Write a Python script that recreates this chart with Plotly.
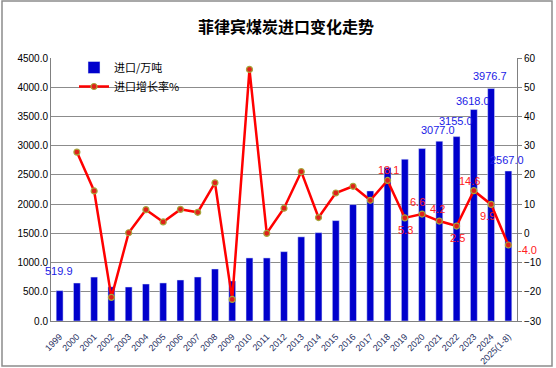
import plotly.graph_objects as go

years = ["1999", "2000", "2001", "2002", "2003", "2004", "2005", "2006", "2007", "2008",
         "2009", "2010", "2011", "2012", "2013", "2014", "2015", "2016", "2017", "2018",
         "2019", "2020", "2021", "2022", "2023", "2024", "2025(1-8)"]
imports = [519.9, 650, 752, 585, 582, 633, 651, 702, 753, 890,
           685, 1079, 1079, 1187, 1440, 1512, 1718, 1992, 2226, 2625,
           2769, 2950, 3077.0, 3155.0, 3618.0, 3976.7, 2567.0]
growth = [None, 27.8, 14.5, -21.9, 0.2, 8.1, 3.9, 8.2, 7.2, 17.3,
          -22.6, 56.1, 0.0, 8.6, 21.1, 5.4, 13.8, 16.1, 11.3, 18.1,
          5.3, 6.6, 4.2, 2.5, 14.6, 9.9, -4.0]

bar_label_idx = [0, 22, 23, 24, 25, 26]
line_label_idx = [19, 20, 21, 22, 23, 24, 25, 26]
# label offsets (px): dx, dy (positive dy = up)
line_label_off = {19: (1, 10), 20: (1, -12), 21: (-5, 12), 22: (-2, 12),
                  23: (1, -12), 24: (-4, 10), 25: (-4, -12), 26: (19, -5)}
bar_label_shift = {0: 12, 22: 3, 23: 8, 24: 1, 25: 5, 26: 3}

fig = go.Figure()
fig.add_trace(go.Bar(x=years, y=imports, name="进口/万吨", marker_color="#0000CC",
                     width=0.4, yaxis="y"))
fig.add_trace(go.Scatter(x=years, y=growth, name="进口增长率%", yaxis="y2",
                         mode="lines+markers",
                         line=dict(color="#FF0000", width=2.5),
                         marker=dict(size=6, color="#E0201A",
                                     line=dict(color="#A6A63C", width=1.2))))

ann = []
for i in bar_label_idx:
    ann.append(dict(x=i, y=imports[i], xref="x", yref="y", text=f"{imports[i]:.1f}",
                    showarrow=False, yanchor="bottom", yshift=bar_label_shift[i], xshift=-1,
                    font=dict(family="Liberation Sans, Arial", size=11, color="#1A1AE6")))
for i in line_label_idx:
    dx, dy = line_label_off[i]
    ann.append(dict(x=i, y=growth[i], xref="x", yref="y2", text=f"{growth[i]:.1f}",
                    showarrow=False, xshift=dx, yshift=dy,
                    font=dict(family="Liberation Sans, Arial", size=11, color="#FF2020")))

ann.append(dict(text="<b>菲律宾煤炭进口变化走势</b>", xref="paper", yref="paper",
                x=(286 - 51) / 466, y=(321 - 26) / 263, showarrow=False,
                xanchor="center", yanchor="middle",
                font=dict(family="Noto Sans CJK SC", size=16, color="#000000")))

fig.update_layout(
    width=556, height=368,
    margin=dict(l=51, r=39, t=58, b=47, autoexpand=False),
    paper_bgcolor="white", plot_bgcolor="white",
    font=dict(family="Liberation Sans, Arial", size=10, color="#000000"),
    bargap=0.6,
    showlegend=True,
    legend=dict(x=(74 - 51) / 466, y=(321 - 53) / 263, xanchor="left", yanchor="top",
                bgcolor="rgba(0,0,0,0)", font=dict(family="Noto Sans CJK SC", size=11),
                tracegroupgap=0, itemwidth=30),
    xaxis=dict(type="category", range=[-0.5, len(years) - 0.5], tickangle=-45,
               showgrid=False, automargin=False, ticklabelstandoff=6,
               tickfont=dict(family="Liberation Sans, Arial", size=9, color="#1F2F5F"),
               showline=True, linecolor="#808080", linewidth=1, ticks=""),
    yaxis=dict(range=[0, 4500], dtick=500, tickformat=".1f", showgrid=True, automargin=False,
               gridcolor="#8C8C8C", gridwidth=1, showline=True, linecolor="#808080",
               zeroline=False, ticks="", tickfont=dict(size=10)),
    yaxis2=dict(range=[-30, 60], dtick=10, overlaying="y", side="right", showgrid=False,
                automargin=False,
                showline=True, linecolor="#808080", zeroline=False, ticks="outside",
                ticklen=4, tickcolor="#808080", tickfont=dict(size=10)),
    annotations=ann,
    shapes=[dict(type="rect", xref="paper", yref="paper",
                 x0=(2 - 51) / 466, x1=(552 - 51) / 466,
                 y0=(321 - 366) / 263, y1=(321 - 1) / 263,
                 line=dict(color="#8C8C8C", width=1.5), fillcolor="rgba(0,0,0,0)",
                 layer="below")],
)

fig.write_html("out.html", config={"displayModeBar": False},
               post_script="document.body.style.margin='0';document.body.style.overflow='hidden';")
